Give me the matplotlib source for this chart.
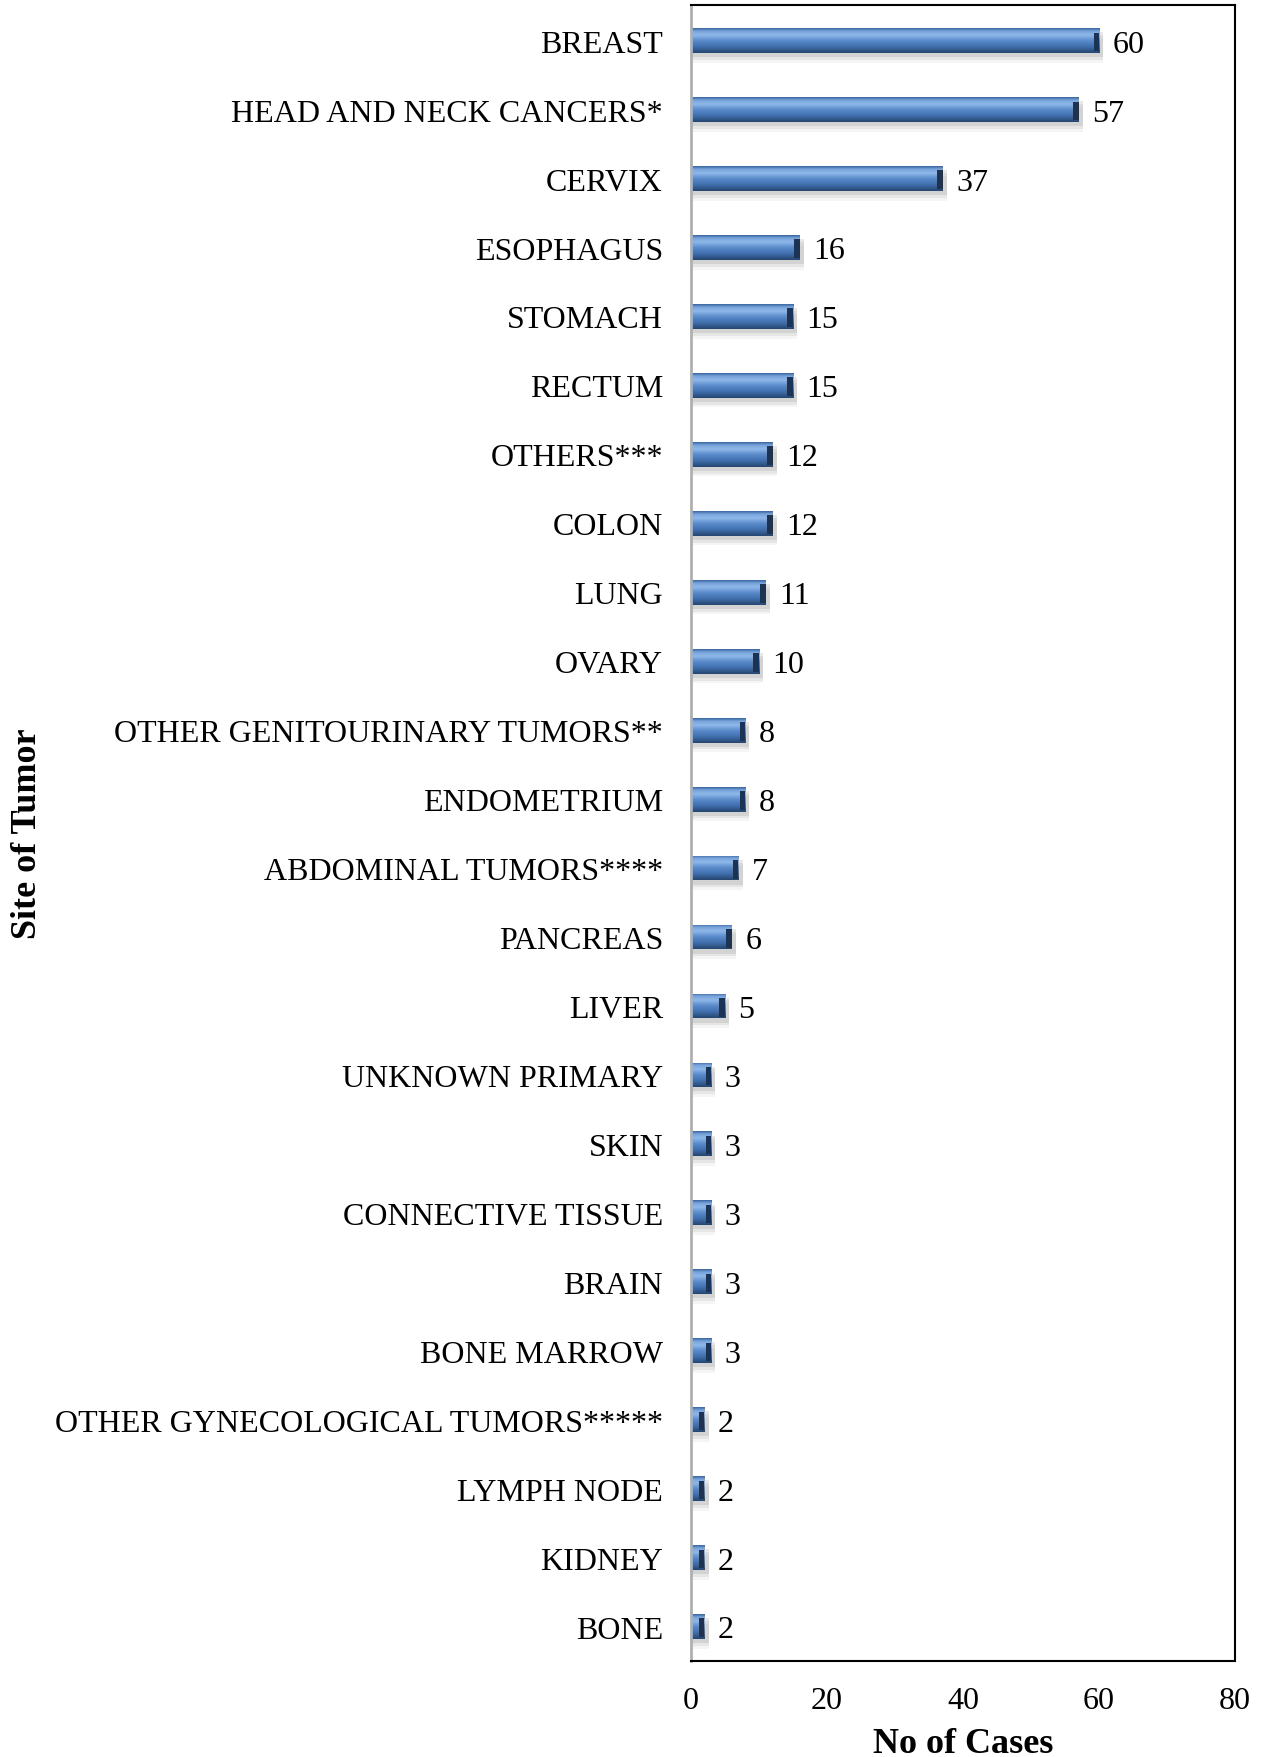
import numpy as np
import matplotlib
matplotlib.use('Agg')
import matplotlib.pyplot as plt
from matplotlib.colors import LinearSegmentedColormap

sites = ['BREAST', 'HEAD AND NECK CANCERS*', 'CERVIX', 'ESOPHAGUS', 'STOMACH',
         'RECTUM', 'OTHERS***', 'COLON', 'LUNG', 'OVARY',
         'OTHER GENITOURINARY TUMORS**', 'ENDOMETRIUM', 'ABDOMINAL TUMORS****',
         'PANCREAS', 'LIVER', 'UNKNOWN PRIMARY', 'SKIN', 'CONNECTIVE TISSUE',
         'BRAIN', 'BONE MARROW', 'OTHER GYNECOLOGICAL TUMORS*****',
         'LYMPH NODE', 'KIDNEY', 'BONE']
cases = [60, 57, 37, 16, 15, 15, 12, 12, 11, 10, 8, 8, 7, 6, 5, 3, 3, 3, 3, 3,
         2, 2, 2, 2]
xticks = [0, 20, 40, 60, 80]

plt.rcParams['font.family'] = ['Liberation Serif', 'DejaVu Serif']

fig = plt.figure(figsize=(12.7, 17.58), dpi=100)
ax = fig.add_axes([0.544, 0.0546, 0.4285, 0.9421])

y = np.arange(len(sites))
vals = np.array(cases, dtype=float)
bar_h = 0.36

# soft shadow below/right of the bars
for k, a in [(0.14, 0.08), (0.10, 0.12), (0.06, 0.18)]:
    ax.barh(y + k, vals + 0.6, height=bar_h, color='gray', alpha=a,
            linewidth=0, zorder=1)

# bars with a vertical gradient (bevel look)
cmap = LinearSegmentedColormap.from_list(
    'bevel', [(0.0, '#3a66a2'), (0.12, '#7aa5dc'), (0.28, '#8fb8ea'),
              (0.5, '#5a8bcb'), (0.75, '#416fae'), (1.0, '#25466f')])
grad = np.linspace(0, 1, 64).reshape(-1, 1)
bars = ax.barh(y, vals, height=bar_h, color='none', linewidth=0, zorder=2)
for b in bars:
    im = ax.imshow(grad, cmap=cmap, aspect='auto', interpolation='bilinear',
                   extent=[b.get_x(), b.get_x() + b.get_width(),
                           b.get_y() + b.get_height(), b.get_y()],
                   zorder=2)
    im.set_clip_path(b)

# dark bevel at the end of each bar
end_w = 0.8
ax.barh(y + bar_h * 0.05, np.full_like(vals, end_w), left=vals - end_w,
        height=bar_h * 0.75, color='#1c3354', linewidth=0, zorder=3)

for yi, v in zip(y, cases):
    ax.text(v + 2.0, yi + 0.05, str(v), va='center', ha='left', fontsize=23)

ax.set_xlim(0, 80)
ax.set_ylim(len(sites) - 0.5, -0.52)
ax.set_xticks(xticks)
ax.set_xticklabels([str(t) for t in xticks], fontsize=23)
ax.set_yticks(y)
ax.set_yticklabels(sites, fontsize=23)
ax.tick_params(axis='both', length=0)
ax.tick_params(axis='y', pad=20)
ax.tick_params(axis='x', pad=18)

for s in ['top', 'right', 'bottom']:
    ax.spines[s].set_color('black')
    ax.spines[s].set_linewidth(1.5)
ax.spines['left'].set_color('#b0b0b0')
ax.spines['left'].set_linewidth(2)

ax.set_xlabel('No of Cases', fontsize=26, fontweight='bold', va='center')
ax.xaxis.set_label_coords(0.5, -0.05)
ax.set_ylabel('Site of Tumor', fontsize=26, fontweight='bold', va='center')
ax.yaxis.set_label_coords(-1.219, 0.5)

fig.savefig('out.png', dpi=100)
